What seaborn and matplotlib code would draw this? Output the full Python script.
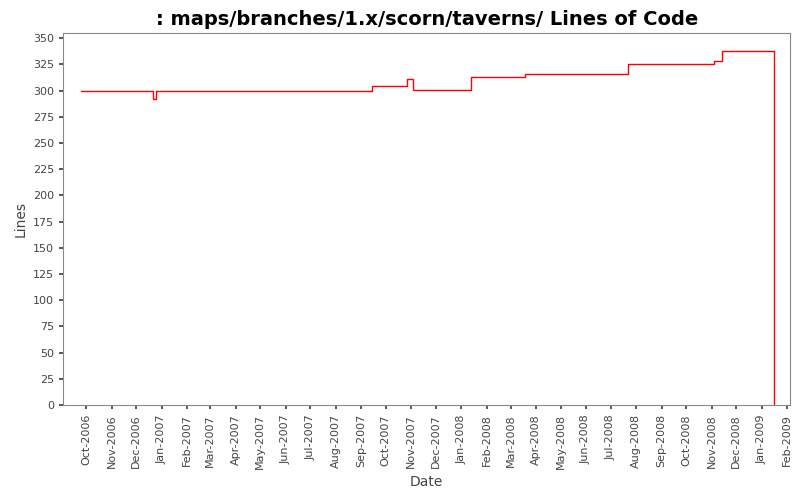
import pandas as pd
import numpy as np
import matplotlib.pyplot as plt
import matplotlib.dates as mdates
import seaborn as sns

# step points: date, lines of code
dates = ["2006-09-25", "2006-12-21", "2006-12-25", "2007-09-14", "2007-10-27",
         "2007-11-03", "2008-01-13", "2008-03-19", "2008-07-22", "2008-11-04",
         "2008-11-14", "2009-01-16", "2009-01-16"]
lines = [300, 292, 300, 304, 311, 301, 313, 316, 325, 328, 338, 338, 0]

df = pd.DataFrame({"Date": pd.to_datetime(dates), "Lines": lines})

sns.set_theme(style="white")
plt.rcParams['font.family'] = ['DejaVu Sans']
fig, ax = plt.subplots(figsize=(8, 5), dpi=100)

ax.step(df["Date"], df["Lines"], where="post", color="#ff0000", linewidth=1)

ax.set_xlim(pd.Timestamp("2006-09-03"), pd.Timestamp("2009-02-05"))
ax.set_ylim(0, 355)
ax.set_yticks(range(0, 351, 25))
ax.xaxis.set_major_locator(mdates.MonthLocator())
ax.xaxis.set_major_formatter(mdates.DateFormatter("%b-%Y"))
plt.setp(ax.get_xticklabels(), rotation=90)
ax.tick_params(axis="both", labelsize=8, colors="#444444", length=3, direction="out")
ax.tick_params(axis="both", bottom=True, left=True)
for s in ax.spines.values():
    s.set_color("#888888")
    s.set_linewidth(0.8)

ax.set_title(": maps/branches/1.x/scorn/taverns/ Lines of Code",
             fontsize=14, fontweight="bold", color="black")
ax.set_xlabel("Date", fontsize=10, color="#444444")
ax.set_ylabel("Lines", fontsize=10, color="#444444")

fig.subplots_adjust(left=0.079, right=0.988, top=0.934, bottom=0.19)
plt.savefig("out.png", dpi=100)
plt.close()
